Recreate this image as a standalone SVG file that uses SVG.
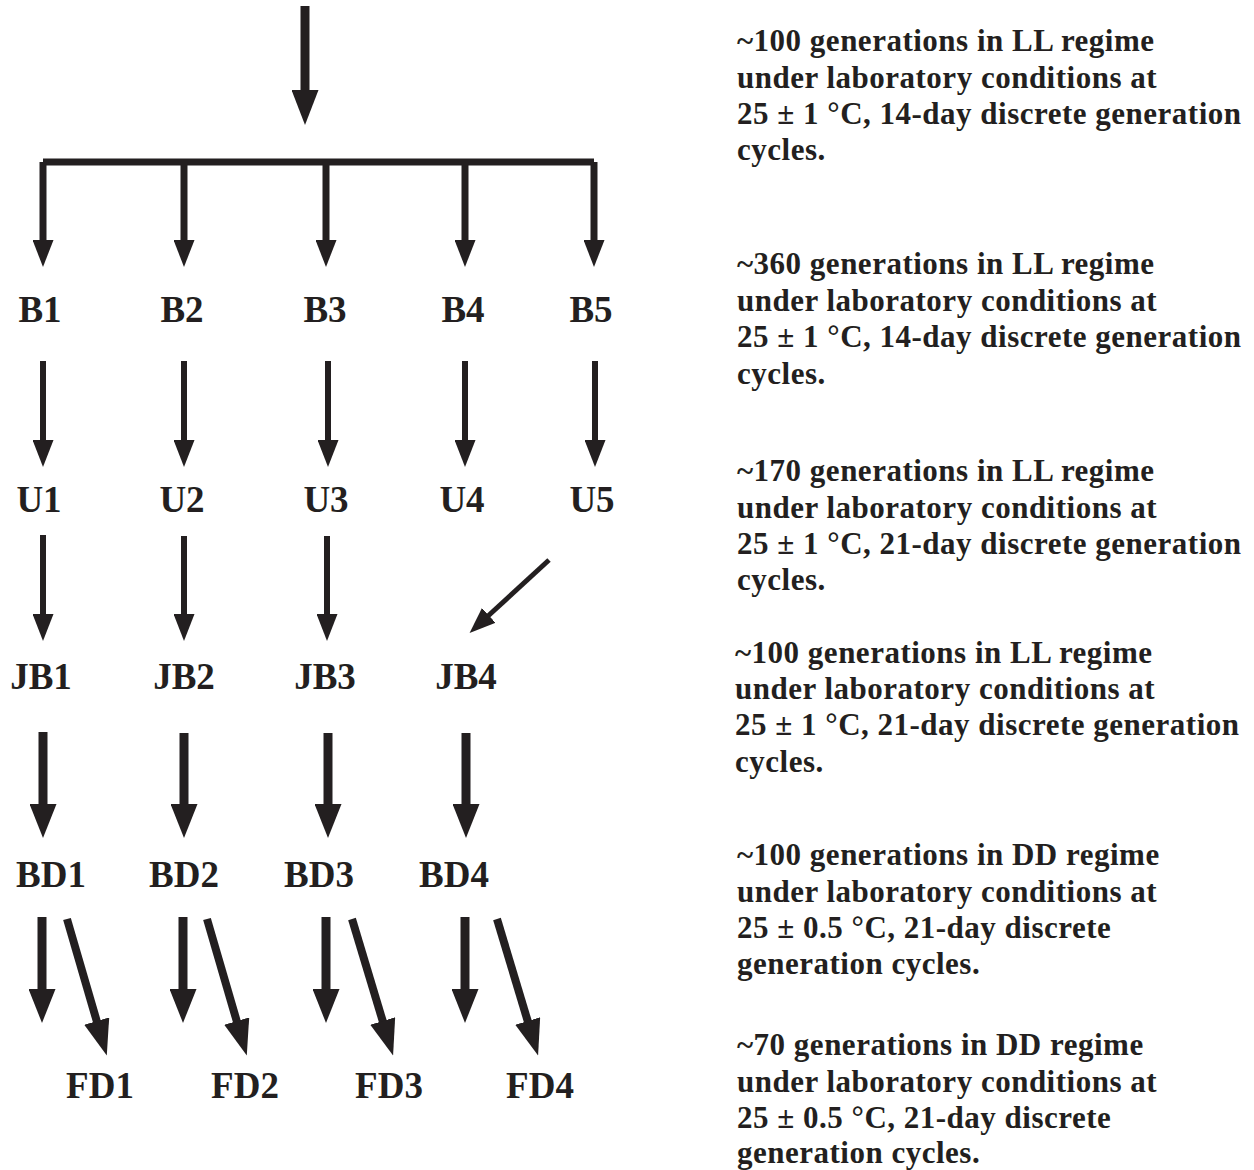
<svg xmlns="http://www.w3.org/2000/svg" width="1254" height="1170" viewBox="0 0 1254 1170">
<style>
.lbl{font-family:"Liberation Serif","Times New Roman",serif;font-weight:bold;font-size:37px;fill:#231f20;text-anchor:middle}
.note{font-family:"Liberation Serif","Times New Roman",serif;font-weight:bold;font-size:31px;letter-spacing:0.5px;fill:#231f20}
.c{stroke:#231f20;fill:none;stroke-linecap:butt}
</style>
<defs>
<marker id="mA" markerUnits="userSpaceOnUse" markerWidth="35" markerHeight="27" viewBox="0 0 35 27" refX="1" refY="13.5" orient="auto"><path d="M0,0 L35,13.5 L0,27 Z" fill="#231f20"/></marker>
<marker id="mB" markerUnits="userSpaceOnUse" markerWidth="27" markerHeight="21" viewBox="0 0 27 21" refX="1" refY="10.5" orient="auto"><path d="M0,0 L27,10.5 L0,21 Z" fill="#231f20"/></marker>
<marker id="mC" markerUnits="userSpaceOnUse" markerWidth="27" markerHeight="21" viewBox="0 0 27 21" refX="1" refY="10.5" orient="auto"><path d="M0,0 L27,10.5 L0,21 Z" fill="#231f20"/></marker>
<marker id="mD" markerUnits="userSpaceOnUse" markerWidth="34" markerHeight="27" viewBox="0 0 34 27" refX="1" refY="13.5" orient="auto"><path d="M0,0 L34,13.5 L0,27 Z" fill="#231f20"/></marker>
<marker id="mE" markerUnits="userSpaceOnUse" markerWidth="36" markerHeight="26" viewBox="0 0 36 26" refX="1" refY="13" orient="auto"><path d="M0,0 L36,13 L0,26 Z" fill="#231f20"/></marker>
<marker id="mF" markerUnits="userSpaceOnUse" markerWidth="26" markerHeight="20" viewBox="0 0 26 20" refX="1" refY="10" orient="auto"><path d="M0,0 L26,10 L0,20 Z" fill="#231f20"/></marker>
</defs>
<g id="connectors">
<line class="c" x1="305" y1="6" x2="305" y2="91" stroke-width="9" marker-end="url(#mA)"/>
<line class="c" x1="43" y1="162" x2="594" y2="162" stroke-width="7" stroke-linecap="square"/>
<line class="c" x1="43" y1="162" x2="43" y2="241" stroke-width="7" marker-end="url(#mB)"/>
<line class="c" x1="184" y1="162" x2="184" y2="241" stroke-width="7" marker-end="url(#mB)"/>
<line class="c" x1="326" y1="162" x2="326" y2="241" stroke-width="7" marker-end="url(#mB)"/>
<line class="c" x1="465" y1="162" x2="465" y2="241" stroke-width="7" marker-end="url(#mB)"/>
<line class="c" x1="594" y1="162" x2="594" y2="241" stroke-width="7" marker-end="url(#mB)"/>
<line class="c" x1="43" y1="361" x2="43" y2="441" stroke-width="6" marker-end="url(#mC)"/>
<line class="c" x1="184" y1="361" x2="184" y2="441" stroke-width="6" marker-end="url(#mC)"/>
<line class="c" x1="328" y1="361" x2="328" y2="441" stroke-width="6" marker-end="url(#mC)"/>
<line class="c" x1="465" y1="361" x2="465" y2="441" stroke-width="6" marker-end="url(#mC)"/>
<line class="c" x1="595" y1="361" x2="595" y2="441" stroke-width="6" marker-end="url(#mC)"/>
<line class="c" x1="43" y1="535" x2="43" y2="615" stroke-width="6" marker-end="url(#mC)"/>
<line class="c" x1="184" y1="536" x2="184" y2="615" stroke-width="6" marker-end="url(#mC)"/>
<line class="c" x1="327" y1="536" x2="327" y2="615" stroke-width="6" marker-end="url(#mC)"/>
<line class="c" x1="549" y1="560" x2="488" y2="616" stroke-width="5" marker-end="url(#mF)"/>
<line class="c" x1="43" y1="732" x2="43" y2="805" stroke-width="9" marker-end="url(#mD)"/>
<line class="c" x1="184" y1="733" x2="184" y2="805" stroke-width="9" marker-end="url(#mD)"/>
<line class="c" x1="328" y1="733" x2="328" y2="805" stroke-width="9" marker-end="url(#mD)"/>
<line class="c" x1="466" y1="733" x2="466" y2="805" stroke-width="9" marker-end="url(#mD)"/>
<line class="c" x1="42" y1="917" x2="42" y2="990" stroke-width="9" marker-end="url(#mD)"/>
<line class="c" x1="183" y1="917" x2="183" y2="990" stroke-width="9" marker-end="url(#mD)"/>
<line class="c" x1="326" y1="917" x2="326" y2="990" stroke-width="9" marker-end="url(#mD)"/>
<line class="c" x1="465" y1="917" x2="465" y2="990" stroke-width="9" marker-end="url(#mD)"/>
<line class="c" x1="67" y1="919" x2="97" y2="1022" stroke-width="8" marker-end="url(#mE)"/>
<line class="c" x1="207" y1="919" x2="237" y2="1022" stroke-width="8" marker-end="url(#mE)"/>
<line class="c" x1="352" y1="919" x2="383" y2="1022" stroke-width="8" marker-end="url(#mE)"/>
<line class="c" x1="497" y1="919" x2="528" y2="1022" stroke-width="8" marker-end="url(#mE)"/>
</g>
<g id="B1"><text class="lbl" x="40" y="322">B1</text></g>
<g id="B2"><text class="lbl" x="182" y="322">B2</text></g>
<g id="B3"><text class="lbl" x="325" y="322">B3</text></g>
<g id="B4"><text class="lbl" x="463" y="322">B4</text></g>
<g id="B5"><text class="lbl" x="591" y="322">B5</text></g>
<g id="U1"><text class="lbl" x="39" y="512">U1</text></g>
<g id="U2"><text class="lbl" x="182" y="512">U2</text></g>
<g id="U3"><text class="lbl" x="326" y="512">U3</text></g>
<g id="U4"><text class="lbl" x="462" y="512">U4</text></g>
<g id="U5"><text class="lbl" x="592" y="512">U5</text></g>
<g id="JB1"><text class="lbl" x="41" y="689">JB1</text></g>
<g id="JB2"><text class="lbl" x="184" y="689">JB2</text></g>
<g id="JB3"><text class="lbl" x="325" y="689">JB3</text></g>
<g id="JB4"><text class="lbl" x="466" y="689">JB4</text></g>
<g id="BD1"><text class="lbl" x="51" y="887">BD1</text></g>
<g id="BD2"><text class="lbl" x="184" y="887">BD2</text></g>
<g id="BD3"><text class="lbl" x="319" y="887">BD3</text></g>
<g id="BD4"><text class="lbl" x="454" y="887">BD4</text></g>
<g id="FD1"><text class="lbl" x="100" y="1098">FD1</text></g>
<g id="FD2"><text class="lbl" x="245" y="1098">FD2</text></g>
<g id="FD3"><text class="lbl" x="389" y="1098">FD3</text></g>
<g id="FD4"><text class="lbl" x="540" y="1098">FD4</text></g>
<g id="note1"><text class="note"><tspan x="737" y="51">~100 generations in LL regime</tspan><tspan x="737" y="88">under laboratory conditions at</tspan><tspan x="737" y="124">25 ± 1 °C, 14-day discrete generation</tspan><tspan x="737" y="160">cycles.</tspan></text></g>
<g id="note2"><text class="note"><tspan x="737" y="274">~360 generations in LL regime</tspan><tspan x="737" y="311">under laboratory conditions at</tspan><tspan x="737" y="347">25 ± 1 °C, 14-day discrete generation</tspan><tspan x="737" y="384">cycles.</tspan></text></g>
<g id="note3"><text class="note"><tspan x="737" y="481">~170 generations in LL regime</tspan><tspan x="737" y="518">under laboratory conditions at</tspan><tspan x="737" y="554">25 ± 1 °C, 21-day discrete generation</tspan><tspan x="737" y="590">cycles.</tspan></text></g>
<g id="note4"><text class="note"><tspan x="735" y="663">~100 generations in LL regime</tspan><tspan x="735" y="699">under laboratory conditions at</tspan><tspan x="735" y="735">25 ± 1 °C, 21-day discrete generation</tspan><tspan x="735" y="772">cycles.</tspan></text></g>
<g id="note5"><text class="note"><tspan x="737" y="865">~100 generations in DD regime</tspan><tspan x="737" y="902">under laboratory conditions at</tspan><tspan x="737" y="938">25 ± 0.5 °C, 21-day discrete</tspan><tspan x="737" y="974">generation cycles.</tspan></text></g>
<g id="note6"><text class="note"><tspan x="737" y="1055">~70 generations in DD regime</tspan><tspan x="737" y="1092">under laboratory conditions at</tspan><tspan x="737" y="1128">25 ± 0.5 °C, 21-day discrete</tspan><tspan x="737" y="1163">generation cycles.</tspan></text></g>
</svg>
